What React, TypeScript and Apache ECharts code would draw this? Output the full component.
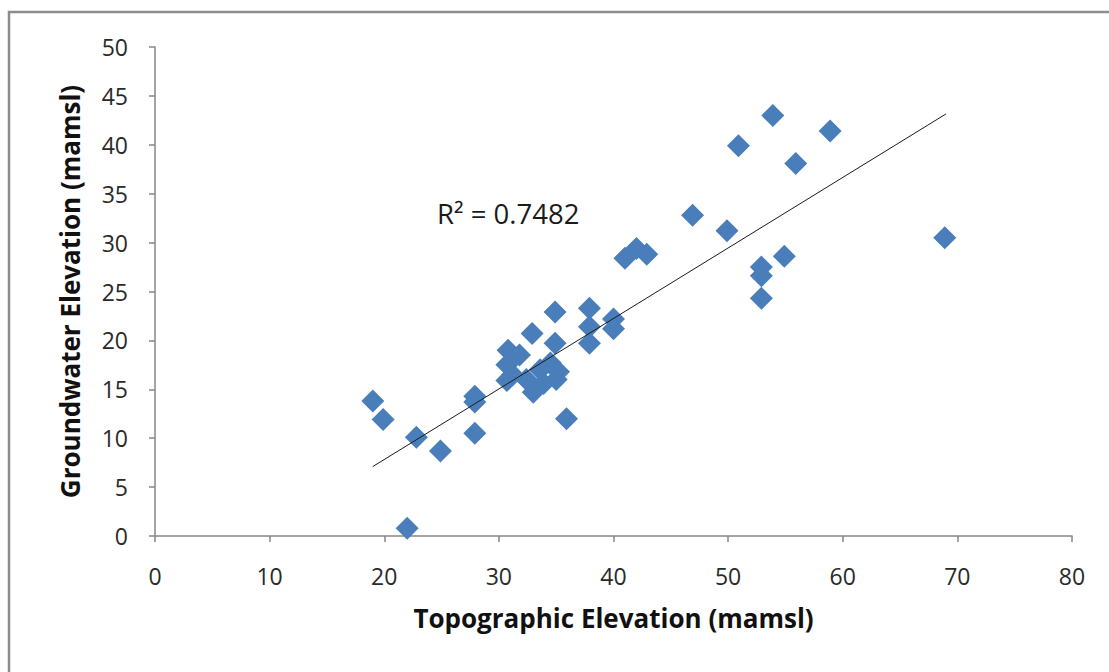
import React, { useEffect, useRef } from "react";
import * as echarts from "echarts";

const topoElevation: number[] = [
  19, 19.9, 22, 22.8, 24.9, 27.9, 27.9, 27.9,
  30.8, 31.8, 30.7, 30.7, 31.2, 32.4, 33, 33.6, 34.5, 35.2, 35, 33.9,
  32.9, 34.9, 34.9, 35.9,
  37.9, 37.9, 37.9, 40, 40,
  41, 42, 42.9, 46.9, 49.9, 50.9, 52.9, 52.9, 52.9, 53.9, 54.9, 55.9, 58.9, 68.9,
];
const groundwaterElevation: number[] = [
  13.8, 11.9, 0.8, 10.1, 8.7, 14.3, 13.7, 10.5,
  19.0, 18.5, 17.5, 15.9, 16.5, 16.0, 14.7, 17.0, 17.7, 16.8, 16.0, 15.6,
  20.7, 22.9, 19.7, 12.0,
  23.3, 21.4, 19.7, 22.2, 21.2,
  28.4, 29.4, 28.8, 32.8, 31.2, 39.9, 27.5, 26.6, 24.3, 43.0, 28.6, 38.1, 41.4, 30.5,
];
const trendX: number[] = [19, 69];
const trendY: number[] = [7.1, 43.15];
const rSquaredLabel = "R² = 0.7482";
const xTitle = "Topographic Elevation (mamsl)";
const yTitle = "Groundwater Elevation (mamsl)";

export default function App() {
  const ref = useRef<HTMLDivElement>(null);
  useEffect(() => {
    document.body.style.margin = "0";
    if (!ref.current) return;
    const chart = echarts.init(ref.current, null, { renderer: "svg" });
    const axisColor = "#868686";
    const font = "'Open Sans', sans-serif";
    chart.setOption({
      animation: false,
      backgroundColor: "#ffffff",
      grid: { left: 155, right: 37, top: 47, bottom: 136, containLabel: false },
      xAxis: {
        type: "value",
        min: 0,
        max: 80,
        interval: 10,
        name: xTitle,
        nameLocation: "middle",
        nameGap: 69,
        nameTextStyle: { fontFamily: font, fontWeight: "bold", fontSize: 26, color: "#111" },
        axisLine: { show: true, onZero: false, lineStyle: { color: axisColor, width: 1.5 } },
        axisTick: { show: true, inside: false, length: 6, lineStyle: { color: axisColor, width: 1.5 } },
        axisLabel: { fontFamily: font, fontSize: 23, color: "#2a2a2a", margin: 28 },
        splitLine: { show: false },
      },
      yAxis: {
        type: "value",
        min: 0,
        max: 50,
        interval: 5,
        name: yTitle,
        nameLocation: "middle",
        nameGap: 72,
        nameTextStyle: { fontFamily: font, fontWeight: "bold", fontSize: 26, color: "#111" },
        axisLine: { show: true, onZero: false, lineStyle: { color: axisColor, width: 1.5 } },
        axisTick: { show: true, inside: false, length: 6, lineStyle: { color: axisColor, width: 1.5 } },
        axisLabel: { fontFamily: font, fontSize: 23, color: "#2a2a2a", margin: 27 },
        splitLine: { show: false },
      },
      series: [
        {
          type: "scatter",
          symbol: "diamond",
          symbolSize: 23,
          itemStyle: { color: "#4a7ebb", opacity: 1 },
          data: topoElevation.map((x, i) => [x, groundwaterElevation[i]]),
          z: 2,
        },
        {
          type: "line",
          showSymbol: false,
          symbol: "none",
          lineStyle: { color: "#1a1a1a", width: 1 },
          data: trendX.map((x, i) => [x, trendY[i]]),
          z: 3,
          silent: true,
        },
      ],
      graphic: [
        {
          type: "rect",
          shape: { x: 9, y: 12, width: 1300, height: 1000 },
          style: { fill: "none", stroke: "#8c8c8c", lineWidth: 2.5 },
          silent: true,
        },
        {
          type: "text",
          left: 437,
          top: 199,
          style: { text: rSquaredLabel, fontFamily: font, fontSize: 27.5, fill: "#1a1a1a" },
        },
      ],
    });
    return () => chart.dispose();
  }, []);
  return <div ref={ref} style={{ width: 1109, height: 672 }} />;
}
